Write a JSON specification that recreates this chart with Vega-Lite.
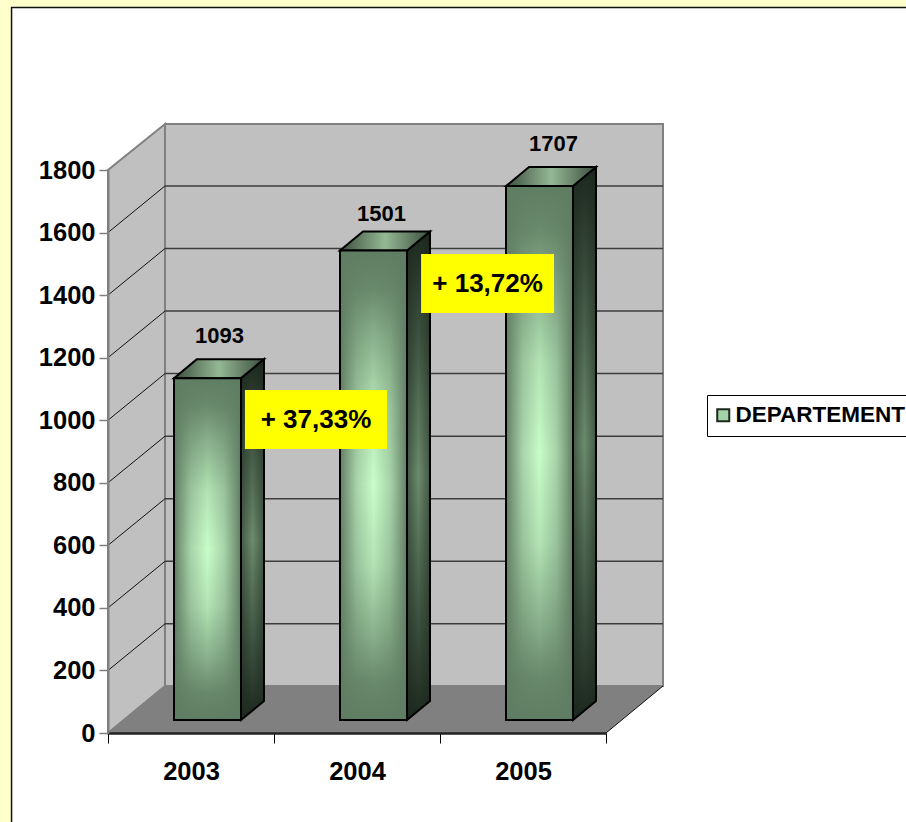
{
"$schema":"https://vega.github.io/schema/vega-lite/v6.json",
"width":498,"height":563,
"autosize":{"type":"none"},
"padding":{"left":108,"top":170,"right":300,"bottom":89},
"background":"#FFFFCC",
"config":{"view":{"stroke":null},"font":"Liberation Sans"},
"datasets":{
"bars":[{"year":"2003","value":1093,"series":"DEPARTEMENT"},{"year":"2004","value":1501,"series":"DEPARTEMENT"},{"year":"2005","value":1707,"series":"DEPARTEMENT"}],
"ticks":[{"tick":200},{"tick":400},{"tick":600},{"tick":800},{"tick":1000},{"tick":1200},{"tick":1400},{"tick":1600}],
"notes":[{"label":"+ 37,33%","from":0.825,"to":1.681,"low":908,"high":1096.6},{"label":"+ 13,72%","from":1.886,"to":2.687,"low":1342.7,"high":1531.3}]
},
"data":{"name":"bars"},
"transform":[
{"calculate":"toNumber(datum.year)-2003","as":"i"},
{"calculate":"datum.i+0.3976","as":"l"},
{"calculate":"datum.i+0.8012","as":"r"},
{"calculate":"datum.value+41.56","as":"t"},
{"calculate":"[datum.r,datum.r+0.13855]","as":"sx"},
{"calculate":"[41.56,41.56+60.75]","as":"sb"},
{"calculate":"[datum.t,datum.t+60.75]","as":"st"},
{"calculate":"[datum.l,datum.l+0.13855]","as":"tl"},
{"calculate":"[datum.r,datum.r+0.13855]","as":"tr"},
{"calculate":"datum.i==0?0.6717:datum.i==1?1.6476:2.684","as":"lx"},
{"calculate":"datum.value+(datum.i==1?158.3:176.3)","as":"ly"}
],
"resolve":{"scale":{"x":"independent","y":"independent"}},
"layer":[
{"data":{"values":[{"left":-0.581,"right":4.93,"low":-342,"high":2319.6}]},"transform":[],
"mark":{"type":"rect","fill":"#FFFFFF","stroke":"#111111","strokeWidth":1.5},
"encoding":{
"x":{"field":"left","type":"quantitative","axis":null,"scale":{"domain":[0,3],"nice":false,"zero":false}},"x2":{"field":"right"},
"y":{"field":"low","type":"quantitative","axis":null,"scale":{"domain":[0,1800]}},"y2":{"field":"high"}}},
{"data":{"values":[{"left":0.34337,"right":3.34337,"low":150.27,"high":1947}]},"transform":[],
"mark":{"type":"rect","fill":"#C0C0C0","stroke":"#808080","strokeWidth":2},
"encoding":{
"x":{"field":"left","type":"quantitative","axis":null,"scale":{"domain":[0,3],"nice":false,"zero":false}},"x2":{"field":"right"},
"y":{"field":"low","type":"quantitative","axis":null,"scale":{"domain":[0,1800]}},"y2":{"field":"high"}}},
{"data":{"values":[{"u":0,"low":0,"high":1800},{"u":0.34337,"low":150.27,"high":1947}]},"transform":[],
"mark":{"type":"area","fill":"#C0C0C0","stroke":"#808080","strokeWidth":2,"opacity":1},
"encoding":{
"x":{"field":"u","type":"quantitative","axis":null,"scale":{"domain":[0,3],"nice":false,"zero":false}},
"y":{"field":"low","type":"quantitative","axis":null,"scale":{"domain":[0,1800]}},"y2":{"field":"high"}}},
{"data":{"values":[{"v":0,"a":0,"b":3},{"v":150.27,"a":0.34337,"b":3.34337}]},"transform":[],
"mark":{"type":"area","orient":"horizontal","fill":"#808080","opacity":1},
"encoding":{
"y":{"field":"v","type":"quantitative","axis":null,"scale":{"domain":[0,1800]}},
"x":{"field":"a","type":"quantitative","axis":null,"scale":{"domain":[0,3],"nice":false,"zero":false}},"x2":{"field":"b"}}},
{"data":{"name":"ticks"},"transform":[{"calculate":"datum.tick+149","as":"back"}],
"mark":{"type":"rule","color":"#3c3c3c","strokeWidth":1.5},
"encoding":{
"x":{"datum":0.34337,"type":"quantitative","axis":null,"scale":{"domain":[0,3],"nice":false,"zero":false}},"x2":{"datum":3.34337},
"y":{"field":"back","type":"quantitative","axis":null,"scale":{"domain":[0,1800]}}}},
{"data":{"name":"ticks"},"transform":[{"calculate":"datum.tick+149","as":"back"}],
"mark":{"type":"rule","color":"#111111","strokeWidth":1},
"encoding":{
"x":{"datum":0,"type":"quantitative","axis":null,"scale":{"domain":[0,3],"nice":false,"zero":false}},"x2":{"datum":0.34337},
"y":{"field":"tick","type":"quantitative","axis":null,"scale":{"domain":[0,1800]}},"y2":{"field":"back"}}},
{"data":{"values":[{"u":3,"v":0,"u2":3.34337,"v2":150.27}]},"transform":[],
"mark":{"type":"rule","color":"#111111","strokeWidth":1},
"encoding":{
"x":{"field":"u","type":"quantitative","axis":null,"scale":{"domain":[0,3],"nice":false,"zero":false}},"x2":{"field":"u2"},
"y":{"field":"v","type":"quantitative","axis":null,"scale":{"domain":[0,1800]}},"y2":{"field":"v2"}}},
{"mark":{"type":"point","opacity":0},
"encoding":{
"x":{"field":"year","type":"nominal","title":null,"scale":{"type":"band","paddingInner":0,"paddingOuter":0},
"axis":{"zindex":1,"tickBand":"extent","labelAngle":0,"labelFontSize":25.5,"labelFontWeight":"bold","labelColor":"#000","labelFont":"Liberation Sans","labelPadding":16,"tickColor":"#000","tickSize":10,"tickWidth":1,"domainColor":"#222","domainWidth":2.5}},
"y":{"field":"value","type":"quantitative","title":null,"scale":{"domain":[0,1800]},
"axis":{"zindex":1,"format":"d","values":[0,200,400,600,800,1000,1200,1400,1600,1800],"grid":false,"labelFontSize":25.5,"labelFontWeight":"bold","labelColor":"#000","labelFont":"Liberation Sans","labelPadding":4,"tickColor":"#808080","tickSize":9,"tickWidth":1.5,"domainColor":"#808080","domainWidth":2}}
}},
{"transform":[{"flatten":["sx","sb","st"]}],
"mark":{"type":"area","opacity":1,"fill":{"gradient":"linear","x1":0,"y1":0,"x2":0,"y2":1,"stops":[{"offset":0,"color":"#1c281e"},{"offset":0.5,"color":"#6c8c6e"},{"offset":1,"color":"#1c281e"}]}},
"encoding":{
"x":{"field":"sx","type":"quantitative","axis":null,"scale":{"domain":[0,3],"nice":false,"zero":false}},
"y":{"field":"sb","type":"quantitative","axis":null,"scale":{"domain":[0,1800]}},"y2":{"field":"st"},"detail":{"field":"year"}}},
{"transform":[{"flatten":["sx","sb","st"]}],
"mark":{"type":"area","opacity":1,"stroke":"#000000","strokeWidth":2,"fill":{"gradient":"linear","x1":0,"y1":0,"x2":1,"y2":0,"stops":[{"offset":0,"color":"rgba(28,40,30,0.5)"},{"offset":0.5,"color":"rgba(28,40,30,0)"},{"offset":1,"color":"rgba(28,40,30,0.5)"}]}},
"encoding":{
"x":{"field":"sx","type":"quantitative","axis":null,"scale":{"domain":[0,3],"nice":false,"zero":false}},
"y":{"field":"sb","type":"quantitative","axis":null,"scale":{"domain":[0,1800]}},"y2":{"field":"st"},"detail":{"field":"year"}}},
{"transform":[{"flatten":["st","tl","tr"]}],
"mark":{"type":"area","orient":"horizontal","opacity":1,"stroke":"#000000","strokeWidth":2,"fill":{"gradient":"linear","x1":0,"y1":0,"x2":1,"y2":0,"stops":[{"offset":0,"color":"#3c4e3f"},{"offset":0.5,"color":"#94b894"},{"offset":1,"color":"#3c4e3f"}]}},
"encoding":{
"y":{"field":"st","type":"quantitative","axis":null,"scale":{"domain":[0,1800]}},
"x":{"field":"tl","type":"quantitative","axis":null,"scale":{"domain":[0,3],"nice":false,"zero":false}},"x2":{"field":"tr"},"detail":{"field":"year"}}},
{"mark":{"type":"rect"},
"encoding":{
"x":{"field":"l","type":"quantitative","axis":null,"scale":{"domain":[0,3],"nice":false,"zero":false}},"x2":{"field":"r"},
"y":{"field":"t","type":"quantitative","axis":null,"scale":{"domain":[0,1800]}},"y2":{"datum":41.56},
"fill":{"field":"series","type":"nominal",
"scale":{"domain":["DEPARTEMENT"],"range":["#a4d4a6"]},
"legend":{"orient":"none","legendX":599,"legendY":225,"title":null,"padding":9,"strokeColor":"#000000","fillColor":"#FFFFFF","symbolType":"square","symbolSize":144,"symbolStrokeColor":"#1c281e","symbolStrokeWidth":2,"symbolOffset":-4,"labelFont":"Liberation Sans","labelFontSize":22.5,"labelFontWeight":"bold","labelColor":"#000000","labelLimit":400,"labelOffset":1}}}},
{"mark":{"type":"rect","fill":{"gradient":"linear","x1":0,"y1":0,"x2":1,"y2":0,"stops":[{"offset":0,"color":"#5f7d62"},{"offset":0.08,"color":"#7a9a7c"},{"offset":0.25,"color":"#a8d4aa"},{"offset":0.5,"color":"#c8fdc9"},{"offset":0.75,"color":"#a8d4aa"},{"offset":0.92,"color":"#7a9a7c"},{"offset":1,"color":"#5f7d62"}]}},
"encoding":{
"x":{"field":"l","type":"quantitative","axis":null,"scale":{"domain":[0,3],"nice":false,"zero":false}},"x2":{"field":"r"},
"y":{"field":"t","type":"quantitative","axis":null,"scale":{"domain":[0,1800]}},"y2":{"datum":41.56}}},
{"mark":{"type":"rect","stroke":"#000000","strokeWidth":2,"fill":{"gradient":"linear","x1":0,"y1":0,"x2":0,"y2":1,"stops":[{"offset":0,"color":"rgba(95,125,98,1)"},{"offset":0.08,"color":"rgba(95,125,98,0.9)"},{"offset":0.18,"color":"rgba(95,125,98,0.6)"},{"offset":0.33,"color":"rgba(95,125,98,0.2)"},{"offset":0.5,"color":"rgba(95,125,98,0)"},{"offset":0.67,"color":"rgba(95,125,98,0.2)"},{"offset":0.82,"color":"rgba(95,125,98,0.6)"},{"offset":0.92,"color":"rgba(95,125,98,0.9)"},{"offset":1,"color":"rgba(95,125,98,1)"}]}},
"encoding":{
"x":{"field":"l","type":"quantitative","axis":null,"scale":{"domain":[0,3],"nice":false,"zero":false}},"x2":{"field":"r"},
"y":{"field":"t","type":"quantitative","axis":null,"scale":{"domain":[0,1800]}},"y2":{"datum":41.56}}},
{"data":{"name":"notes"},"transform":[],
"mark":{"type":"rect","fill":"#FFFF00"},
"encoding":{
"x":{"field":"from","type":"quantitative","axis":null,"scale":{"domain":[0,3],"nice":false,"zero":false}},"x2":{"field":"to"},
"y":{"field":"low","type":"quantitative","axis":null,"scale":{"domain":[0,1800]}},"y2":{"field":"high"}}},
{"data":{"name":"notes"},"transform":[{"calculate":"(datum.from+datum.to)/2","as":"mx"},{"calculate":"(datum.low+datum.high)/2","as":"my"}],
"mark":{"type":"text","fontSize":26,"fontWeight":"bold","font":"Liberation Sans","color":"#000000","align":"center","baseline":"middle"},
"encoding":{
"x":{"field":"mx","type":"quantitative","axis":null,"scale":{"domain":[0,3],"nice":false,"zero":false}},
"y":{"field":"my","type":"quantitative","axis":null,"scale":{"domain":[0,1800]}},
"text":{"field":"label"}}},
{"mark":{"type":"text","fontSize":22,"fontWeight":"bold","font":"Liberation Sans","color":"#000000","align":"center","baseline":"middle"},
"encoding":{
"x":{"field":"lx","type":"quantitative","axis":null,"scale":{"domain":[0,3],"nice":false,"zero":false}},
"y":{"field":"ly","type":"quantitative","axis":null,"scale":{"domain":[0,1800]}},
"text":{"field":"value","type":"quantitative"}}}
]
}
